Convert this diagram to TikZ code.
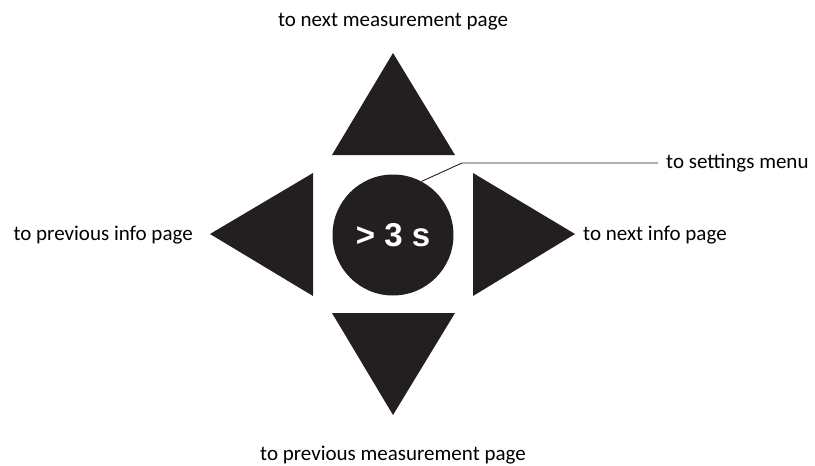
\documentclass[tikz,border=0pt]{standalone}
\usepackage{fontspec}
\setmainfont{Carlito}
\newfontfamily\knobfont{Liberation Sans}
\definecolor{keyblack}{HTML}{231F20}

\begin{document}
\begin{tikzpicture}[x=1pt, y=-1pt,
    lbl/.style={inner sep=0pt, font=\fontsize{21}{25}\selectfont}]
    \useasboundingbox (0,0) rectangle (815,466);
    % arrow keys
    \fill[keyblack] (393, 53) -- (455,155) -- (332,155) -- cycle;
    \fill[keyblack] (393,415) -- (455,313) -- (332,313) -- cycle;
    \fill[keyblack] (210,234) -- (313,173) -- (313,296) -- cycle;
    \fill[keyblack] (575,234) -- (473,173) -- (473,296) -- cycle;
    % centre key
    \node[circle, fill=keyblack, minimum size=121pt, inner sep=0pt, text=white,
          font=\knobfont\bfseries\fontsize{33}{33}\selectfont] (knob) at (393,235) {> 3 s};
    \node[lbl] (up)    at (393, 22) {to next measurement page};
    \node[lbl] (down)  at (393,455) {to previous measurement page};
    \node[lbl, anchor=east] (left)  at (193,235) {to previous info page};
    \node[lbl, anchor=west] (right) at (583,235) {to next info page};
    \node[lbl, anchor=west, inner xsep=8pt] (settings) at (658,163) {to settings menu};
    \coordinate (bend) at (462,163);
    \draw[line width=0.9pt, keyblack] (knob.62) -- (bend) -- (settings.west);
\end{tikzpicture}
\end{document}
